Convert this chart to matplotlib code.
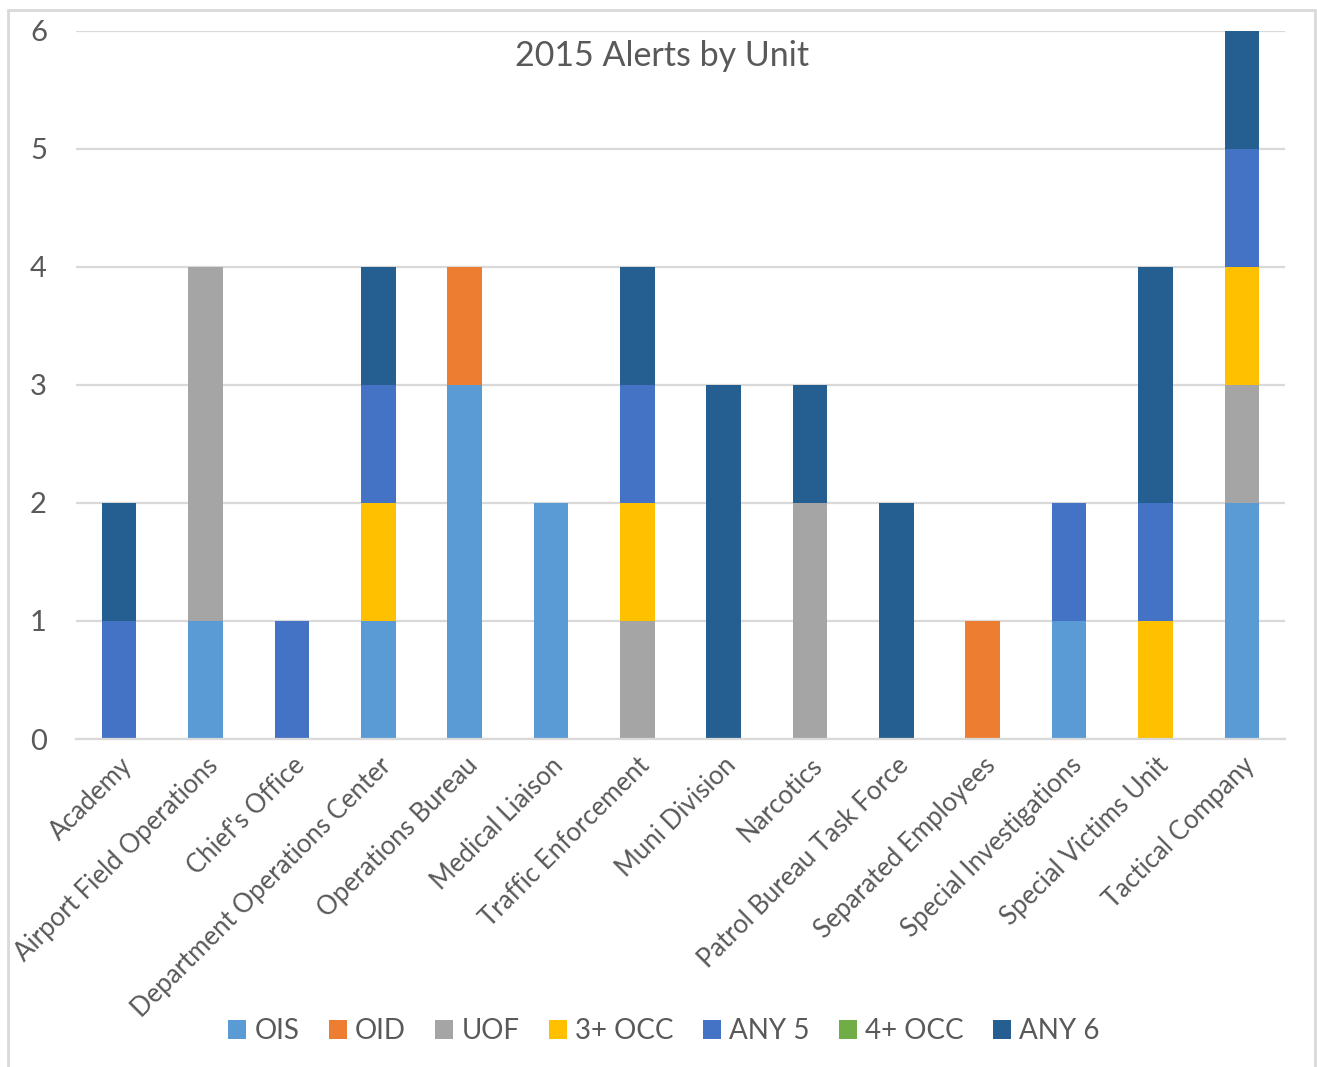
import numpy as np
import matplotlib
matplotlib.use("Agg")
import matplotlib.pyplot as plt
from matplotlib.patches import Rectangle

plt.rcParams['font.family'] = ['Lato', 'DejaVu Sans']

units = ["Academy", "Airport Field Operations", "Chief's Office",
         "Department Operations Center", "Operations Bureau", "Medical Liaison",
         "Traffic Enforcement", "Muni Division", "Narcotics",
         "Patrol Bureau Task Force", "Separated Employees",
         "Special Investigations", "Special Victims Unit", "Tactical Company"]

series_names = ["OIS", "OID", "UOF", "3+ OCC", "ANY 5", "4+ OCC", "ANY 6"]
ois    = [0, 1, 0, 1, 3, 2, 0, 0, 0, 0, 0, 1, 0, 2]
oid    = [0, 0, 0, 0, 1, 0, 0, 0, 0, 0, 1, 0, 0, 0]
uof    = [0, 3, 0, 0, 0, 0, 1, 0, 2, 0, 0, 0, 0, 1]
occ3   = [0, 0, 0, 1, 0, 0, 1, 0, 0, 0, 0, 0, 1, 1]
any5   = [1, 0, 1, 1, 0, 0, 1, 0, 0, 0, 0, 1, 1, 1]
occ4   = [0, 0, 0, 0, 0, 0, 0, 0, 0, 0, 0, 0, 0, 0]
any6   = [1, 0, 0, 1, 0, 0, 1, 3, 1, 2, 0, 0, 2, 1]

colors = ["#5B9BD5", "#ED7D31", "#A5A5A5", "#FFC000", "#4472C4", "#70AD47", "#255E91"]
text_col = "#595959"
grid_col = "#D9D9D9"

fig = plt.figure(figsize=(13.17, 10.67), dpi=100)
ax = fig.add_axes([0.0577, 0.3074, 0.918, 0.6636])

x = np.arange(len(units))
bottom = np.zeros(len(units))
for name, vals, c in zip(series_names, [ois, oid, uof, occ3, any5, occ4, any6], colors):
    vals = np.array(vals, dtype=float)
    ax.bar(x, vals, 0.4, bottom=bottom, color=c, label=name, zorder=3)
    bottom += vals

ax.set_xlim(-0.5, len(units) - 0.5)
ax.set_ylim(0, 6)
ax.set_yticks(range(7))
ax.yaxis.grid(True, color=grid_col, linewidth=1.6, zorder=0)
for s in ["top", "right", "left"]:
    ax.spines[s].set_visible(False)
ax.spines["bottom"].set_color(grid_col)
ax.spines["bottom"].set_linewidth(1.6)
ax.spines["bottom"].set_zorder(4)
ax.tick_params(axis="both", length=0, colors=text_col)
# y labels centred at about x=38 px
ax.tick_params(axis="y", labelsize=21, pad=27)
for lbl in ax.get_yticklabels():
    lbl.set_horizontalalignment("center")
ax.set_xticks(x)
ax.set_xticklabels(units, rotation=45, ha="right", rotation_mode="anchor", fontsize=18.5)
ax.tick_params(axis="x", pad=10)

fig.text(662 / 1317, 1 - 56 / 1067, "2015 Alerts by Unit", ha="center", va="center",
         fontsize=24.5, color=text_col)

fig.legend(loc="center", bbox_to_anchor=(664 / 1317, 1 - 1031 / 1067), ncol=7,
           frameon=False, fontsize=20, labelcolor=text_col, handlelength=0.65,
           handleheight=0.65, handletextpad=0.3, columnspacing=1.05)

fig.patches.append(Rectangle((8 / 1317, -0.01), 1307 / 1317, 1 - 10 / 1067 + 0.01,
                             transform=fig.transFigure, fill=False,
                             edgecolor=grid_col, linewidth=2))

fig.savefig("out.png", dpi=100)
